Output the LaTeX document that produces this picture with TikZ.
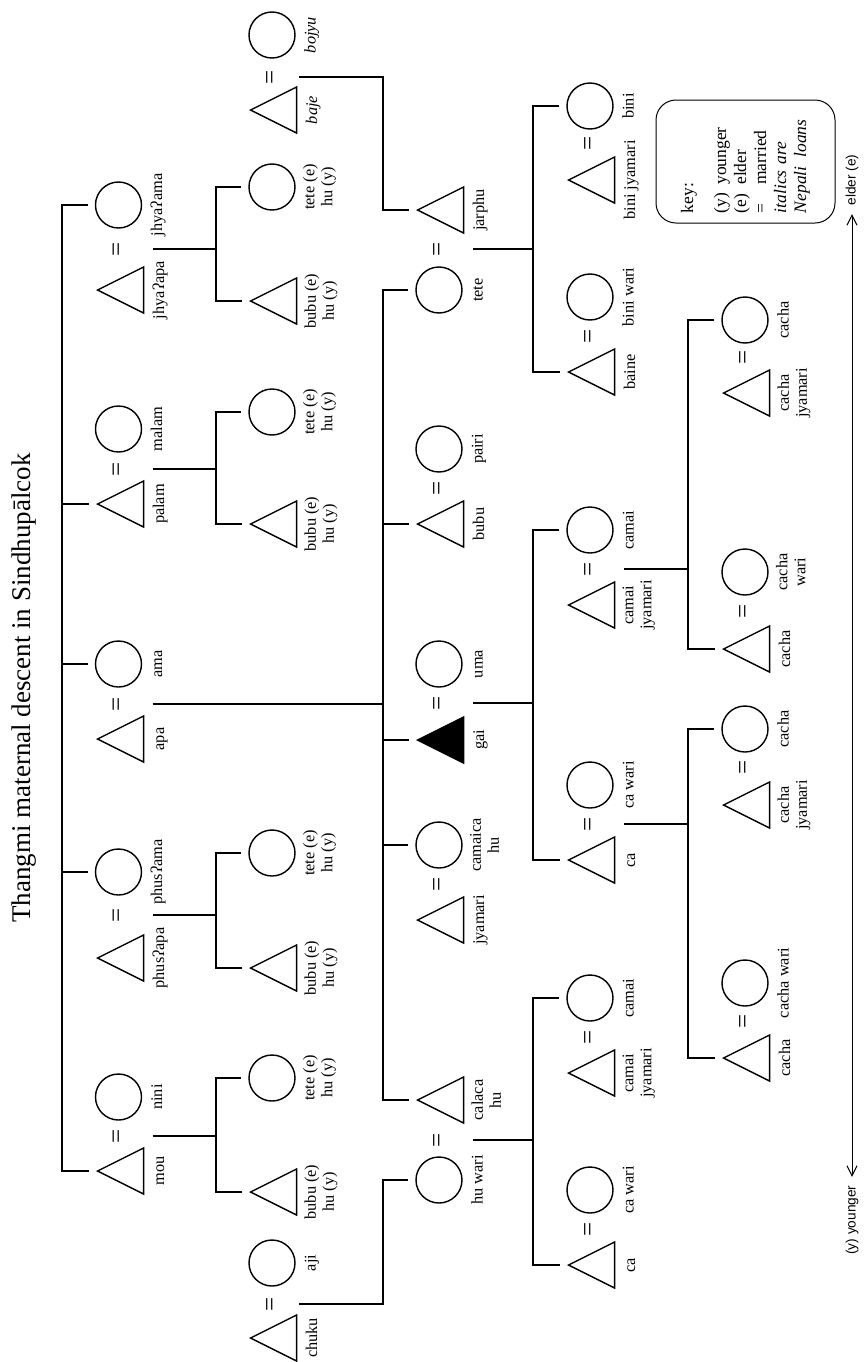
\documentclass[tikz,border=0pt]{standalone}
\usepackage{fontspec}
\setmainfont{Liberation Serif}
\newfontfamily\axisfont{Liberation Sans}
\usepackage{tikz}
\usetikzlibrary{arrows.meta,shapes.geometric,calc}

\newcommand{\labsize}{\fontsize{9.8}{10.8}\selectfont}

\begin{document}
\begin{tikzpicture}[x=0.6pt,y=-0.6pt,
  kin/.style={line width=0.85pt},
  tie/.style={kin,shorten >=4.2pt},
  link/.style={kin,shorten <=4.2pt,shorten >=4.2pt},
  male/.style={isosceles triangle,isosceles triangle apex angle=53.13,isosceles triangle stretches,shape border rotate=180,draw,line width=0.85pt,minimum width=27.6pt,minimum height=27.6pt,inner sep=0pt,anchor=apex},
  ego/.style={male,fill=black},
  female/.style={circle,draw,line width=0.85pt,minimum size=27.6pt,inner sep=0pt},
  lab/.style={rotate=90,anchor=north,align=center,inner sep=0pt,font=\labsize,execute at begin node=\strut},
  eq/.style={rotate=90,inner sep=0pt,font=\fontsize{15}{15}\selectfont},
  title/.style={rotate=90,inner sep=0pt,font=\fontsize{16.2}{18}\selectfont},
  keybox/.style={rotate=90,draw,line width=0.6pt,rounded corners=12pt,minimum width=73.8pt,minimum height=107.4pt,inner xsep=6pt,text width=61.8pt,align=left,font=\fontsize{10.5}{12}\selectfont},
  axislab/.style={rotate=90,inner sep=5pt,font=\axisfont\fontsize{8.2}{9}\selectfont},
  axis/.style={line width=0.6pt,<->,>={Straight Barb[length=6pt,width=6pt]}}
]
\useasboundingbox (0,0) rectangle (865,1362);

\node[title] (head) at (24,688) {Thangmi maternal descent in Sindhupālcok};

% bars
\coordinate (g1) at (62,0);
\coordinate (g2) at (216,0);
\coordinate (g3) at (383,0);
\coordinate (g4) at (533,0);
\coordinate (g5) at (688,0);

% first generation
\node[male] (mou) at (96,1171) {};
\node[female] (nini) at (118.5,1097) {};
\node[eq] (mouEq) at (118.5,1136) {=};
\node[male] (phusapa) at (96,958) {};
\node[female] (phusama) at (118.5,872) {};
\node[eq] (phusEq) at (118.5,915) {=};
\node[male] (apa) at (96,739) {};
\node[female] (ama) at (118.5,664) {};
\node[eq] (apaEq) at (118.5,704) {=};
\node[male] (palam) at (96,504) {};
\node[female] (malam) at (118.5,429) {};
\node[eq] (palamEq) at (118.5,469) {=};
\node[male] (jhyaapa) at (96,290) {};
\node[female] (jhyaama) at (118.5,205) {};
\node[eq] (jhyaEq) at (118.5,249) {=};

\node[lab] (mouLab) at ($(mou.east)+(7,0)$) {mou};
\node[lab] (niniLab) at ($(nini.east)+(7,0)$) {nini};
\node[lab] (phusapaLab) at ($(phusapa.east)+(7,0)$) {phusʔapa};
\node[lab] (phusamaLab) at ($(phusama.east)+(7,0)$) {phusʔama};
\node[lab] (apaLab) at ($(apa.east)+(7,0)$) {apa};
\node[lab] (amaLab) at ($(ama.east)+(7,0)$) {ama};
\node[lab] (palamLab) at ($(palam.east)+(7,0)$) {palam};
\node[lab] (malamLab) at ($(malam.east)+(7,0)$) {malam};
\node[lab] (jhyaapaLab) at ($(jhyaapa.east)+(7,0)$) {jhyaʔapa};
\node[lab] (jhyaamaLab) at ($(jhyaama.east)+(7,0)$) {jhyaʔama};

% second generation
\node[male] (chuku) at (249,1338) {};
\node[female] (aji) at (272,1263) {};
\node[eq] (chukuEq) at (272,1304) {=};
\node[male] (bubuA) at (249,1192) {};
\node[female] (teteA) at (272,1078) {};
\node[male] (bubuB) at (249,968) {};
\node[female] (teteB) at (272,853) {};
\node[male] (bubuC) at (249,524) {};
\node[female] (teteC) at (272,412) {};
\node[male] (bubuD) at (249,301) {};
\node[female] (teteD) at (272,187) {};
\node[male] (baje) at (249,110) {};
\node[female] (bojyu) at (272,35) {};
\node[eq] (bajeEq) at (272,77) {=};

\node[lab] (chukuLab) at ($(chuku.east)+(7,0)$) {chuku};
\node[lab] (ajiLab) at ($(aji.east)+(7,0)$) {aji};
\node[lab] (bubuALab) at ($(bubuA.east)+(7,0)$) {bubu (e)\\hu (y)};
\node[lab] (teteALab) at ($(teteA.east)+(7,0)$) {tete (e)\\hu (y)};
\node[lab] (bubuBLab) at ($(bubuB.east)+(7,0)$) {bubu (e)\\hu (y)};
\node[lab] (teteBLab) at ($(teteB.east)+(7,0)$) {tete (e)\\hu (y)};
\node[lab] (bubuCLab) at ($(bubuC.east)+(7,0)$) {bubu (e)\\hu (y)};
\node[lab] (teteCLab) at ($(teteC.east)+(7,0)$) {tete (e)\\hu (y)};
\node[lab] (bubuDLab) at ($(bubuD.east)+(7,0)$) {bubu (e)\\hu (y)};
\node[lab] (teteDLab) at ($(teteD.east)+(7,0)$) {tete (e)\\hu (y)};
\node[lab] (bajeLab) at ($(baje.east)+(7,0)$) {\textit{baje}};
\node[lab] (bojyuLab) at ($(bojyu.east)+(7,0)$) {\textit{bojyu}};

% third generation
\node[male] (jarphu) at (416,210) {};
\node[female] (tete) at (439,290) {};
\node[eq] (teteEq) at (439,249) {=};
\node[male] (bubu) at (416,524) {};
\node[female] (pairi) at (439,449) {};
\node[eq] (bubuEq) at (439,488) {=};
\node[ego] (gai) at (416,740) {};
\node[female] (uma) at (439,664) {};
\node[eq] (gaiEq) at (439,703) {=};
\node[male] (jyamari) at (416,920) {};
\node[female] (camaica) at (439,845) {};
\node[eq] (camaicaEq) at (439,884) {=};
\node[male] (calaca) at (416,1100) {};
\node[female] (huwari) at (439,1180) {};
\node[eq] (calacaEq) at (439,1140) {=};

\node[lab] (jarphuLab) at ($(jarphu.east)+(7,0)$) {jarphu};
\node[lab] (teteLab) at ($(tete.east)+(7,0)$) {tete};
\node[lab] (bubuLab) at ($(bubu.east)+(7,0)$) {bubu};
\node[lab] (pairiLab) at ($(pairi.east)+(7,0)$) {pairi};
\node[lab] (gaiLab) at ($(gai.east)+(7,0)$) {gai};
\node[lab] (umaLab) at ($(uma.east)+(7,0)$) {uma};
\node[lab] (jyamariLab) at ($(jyamari.east)+(7,0)$) {jyamari};
\node[lab] (camaicaLab) at ($(camaica.east)+(7,0)$) {camaica\\hu};
\node[lab] (calacaLab) at ($(calaca.east)+(7,0)$) {calaca\\hu};
\node[lab] (huwariLab) at ($(huwari.east)+(7,0)$) {hu wari};

% fourth generation
\node[female] (bini) at (590,106) {};
\node[male] (binijy) at (567,180) {};
\node[eq] (biniEq) at (590,143) {=};
\node[female] (biniwari) at (590,297) {};
\node[male] (baine) at (567,372) {};
\node[eq] (baineEq) at (590,336) {=};
\node[female] (camaiA) at (590,530) {};
\node[male] (camaijyA) at (567,605) {};
\node[eq] (camaiAEq) at (590,569) {=};
\node[female] (cawariA) at (590,785) {};
\node[male] (caA) at (567,860) {};
\node[eq] (caAEq) at (590,824) {=};
\node[female] (camaiB) at (590,998) {};
\node[male] (camaijyB) at (567,1073) {};
\node[eq] (camaiBEq) at (590,1037) {=};
\node[female] (cawariB) at (590,1190) {};
\node[male] (caB) at (567,1265) {};
\node[eq] (caBEq) at (590,1229) {=};

\node[lab] (biniLab) at ($(bini.east)+(7,0)$) {bini};
\node[lab] (binijyLab) at ($(binijy.east)+(7,0)$) {bini jyamari};
\node[lab] (biniwariLab) at ($(biniwari.east)+(7,0)$) {bini wari};
\node[lab] (baineLab) at ($(baine.east)+(7,0)$) {baine};
\node[lab] (camaiALab) at ($(camaiA.east)+(7,0)$) {camai};
\node[lab] (camaijyALab) at ($(camaijyA.east)+(7,0)$) {camai\\jyamari};
\node[lab] (cawariALab) at ($(cawariA.east)+(7,0)$) {ca wari};
\node[lab] (caALab) at ($(caA.east)+(7,0)$) {ca};
\node[lab] (camaiBLab) at ($(camaiB.east)+(7,0)$) {camai};
\node[lab] (camaijyBLab) at ($(camaijyB.east)+(7,0)$) {camai\\jyamari};
\node[lab] (cawariBLab) at ($(cawariB.east)+(7,0)$) {ca wari};
\node[lab] (caBLab) at ($(caB.east)+(7,0)$) {ca};

% fifth generation
\node[female] (cachaA) at (745,320) {};
\node[male] (cachajyA) at (722,393) {};
\node[eq] (cachaAEq) at (745,357) {=};
\node[female] (cachawariB) at (745,572) {};
\node[male] (cachaB) at (722,649) {};
\node[eq] (cachaBEq) at (745,611) {=};
\node[female] (cachaC) at (745,729) {};
\node[male] (cachajyC) at (722,805) {};
\node[eq] (cachaCEq) at (745,767) {=};
\node[female] (cachawariD) at (745,983) {};
\node[male] (cachaD) at (722,1058) {};
\node[eq] (cachaDEq) at (745,1021) {=};

\node[lab] (cachaALab) at ($(cachaA.east)+(7,0)$) {cacha};
\node[lab] (cachajyALab) at ($(cachajyA.east)+(7,0)$) {cacha\\jyamari};
\node[lab] (cachawariBLab) at ($(cachawariB.east)+(7,0)$) {cacha\\wari};
\node[lab] (cachaBLab) at ($(cachaB.east)+(7,0)$) {cacha};
\node[lab] (cachaCLab) at ($(cachaC.east)+(7,0)$) {cacha};
\node[lab] (cachajyCLab) at ($(cachajyC.east)+(7,0)$) {cacha\\jyamari};
\node[lab] (cachawariDLab) at ($(cachawariD.east)+(7,0)$) {cacha wari};
\node[lab] (cachaDLab) at ($(cachaD.east)+(7,0)$) {cacha};

% sibling lines, first generation
\draw[link] (mou.apex) -- (mou.apex -| g1) -- (jhyaama.west -| g1) -- (jhyaama.west);
\draw[tie] (phusama.west -| g1) -- (phusama.west);
\draw[tie] (ama.west -| g1) -- (ama.west);
\draw[tie] (palam.apex -| g1) -- (palam.apex);

% children of the first generation
\draw[kin] ($(mouEq)+(34,0)$) -- (mouEq -| g2);
\draw[link] (bubuA.apex) -- (bubuA.apex -| g2) -- (teteA.west -| g2) -- (teteA.west);
\draw[kin] ($(phusEq)+(34,0)$) -- (phusEq -| g2);
\draw[link] (bubuB.apex) -- (bubuB.apex -| g2) -- (teteB.west -| g2) -- (teteB.west);
\draw[kin] ($(palamEq)+(34,0)$) -- (palamEq -| g2);
\draw[link] (bubuC.apex) -- (bubuC.apex -| g2) -- (teteC.west -| g2) -- (teteC.west);
\draw[kin] ($(jhyaEq)+(34,0)$) -- (jhyaEq -| g2);
\draw[link] (bubuD.apex) -- (bubuD.apex -| g2) -- (teteD.west -| g2) -- (teteD.west);

% ego's siblings
\draw[kin] ($(apaEq)+(34,0)$) -- (apaEq -| g3);
\draw[link] (tete.west) -- (tete.west -| g3) -- (calaca.apex -| g3) -- (calaca.apex);
\draw[tie] (bubu.apex -| g3) -- (bubu.apex);
\draw[tie] (gai.apex -| g3) -- (gai.apex);
\draw[tie] (camaica.west -| g3) -- (camaica.west);

% spouses' parents
\draw[tie] ($(bajeEq)+(27,0)$) -| (jarphu.apex -| g3) -- (jarphu.apex);
\draw[tie] ($(chukuEq)+(27,0)$) -| (huwari.west -| g3) -- (huwari.west);

% fourth generation
\draw[kin] ($(teteEq)+(34,0)$) -- (teteEq -| g4);
\draw[link] (bini.west) -- (bini.west -| g4) -- (baine.apex -| g4) -- (baine.apex);
\draw[kin] ($(gaiEq)+(34,0)$) -- (gaiEq -| g4);
\draw[link] (camaiA.west) -- (camaiA.west -| g4) -- (caA.apex -| g4) -- (caA.apex);
\draw[kin] ($(calacaEq)+(34,0)$) -- (calacaEq -| g4);
\draw[link] (camaiB.west) -- (camaiB.west -| g4) -- (caB.apex -| g4) -- (caB.apex);

% fifth generation
\draw[kin] ($(camaiAEq)+(34,0)$) -- (camaiAEq -| g5);
\draw[link] (cachaA.west) -- (cachaA.west -| g5) -- (cachaB.apex -| g5) -- (cachaB.apex);
\draw[kin] ($(caAEq)+(34,0)$) -- (caAEq -| g5);
\draw[link] (cachaC.west) -- (cachaC.west -| g5) -- (cachaD.apex -| g5) -- (cachaD.apex);

% key
\node[keybox] (key) at (745.5,161.5) {key:\\[7.8pt]
  \makebox[17pt][l]{(y)}younger\\
  \makebox[17pt][l]{(e)}elder\\
  \makebox[17pt][l]{=}married\\
  \textit{italics are}\\
  \textit{Nepali\enspace loans}};

% age axis
\node[axislab] (younger) at (852,1220) {(y) younger};
\node[axislab] (elder) at (852,180) {elder (e)};
\draw[axis] (younger) -- (elder);
\end{tikzpicture}
\end{document}
